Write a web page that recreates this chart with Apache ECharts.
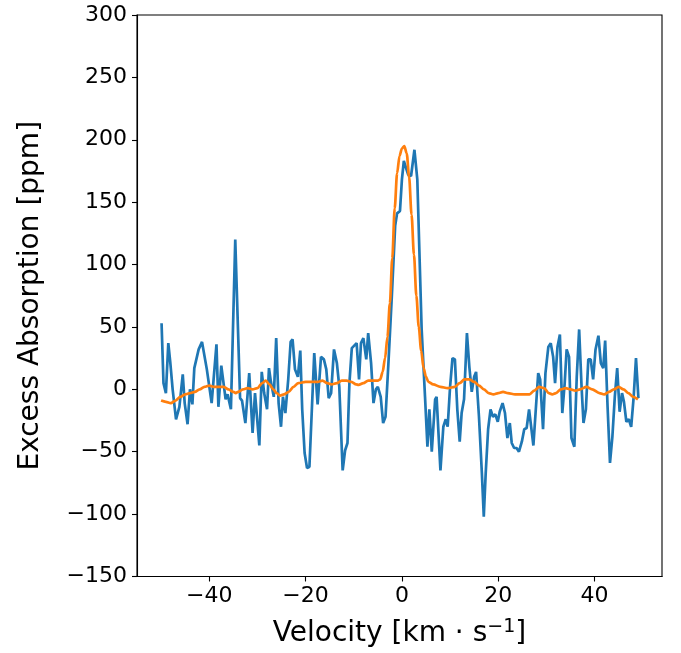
<!DOCTYPE html>
<html>
<head>
<meta charset="utf-8">
<script src="https://cdn.jsdelivr.net/npm/echarts@6/dist/echarts.min.js"></script>
<style>
html,body{margin:0;padding:0;background:#fff;}
#chart{width:681px;height:653px;}
</style>
</head>
<body>
<div id="chart"></div>
<script>
// Observed excess absorption (blue)
var obsVelocity = [-49.9,-49.5,-49.0,-48.5,-48.1,-47.6,-46.9,-46.2,-45.5,-45.1,-44.5,-44.0,-43.5,-43.1,-42.2,-41.5,-40.5,-39.5,-38.5,-38.1,-37.5,-37.1,-36.6,-36.2,-35.5,-34.6,-33.6,-33.2,-32.5,-31.7,-31.0,-30.5,-29.6,-29.1,-28.6,-28.0,-27.6,-27.2,-26.6,-26.1,-25.6,-25.1,-24.7,-24.2,-23.6,-23.1,-22.7,-22.2,-21.6,-21.1,-20.7,-20.2,-19.7,-19.2,-18.2,-17.5,-16.8,-16.2,-15.7,-15.2,-14.7,-14.1,-13.5,-13.0,-12.3,-11.8,-11.3,-10.9,-10.4,-9.4,-8.9,-8.5,-8.0,-7.4,-7.0,-6.8,-6.4,-5.9,-5.4,-5.0,-4.4,-3.9,-3.4,-2.8,-2.1,-1.4,-1.0,-0.4,0.0,0.4,0.7,1.3,1.9,2.6,3.2,4.1,4.8,5.3,5.7,6.2,6.9,7.2,8.0,8.6,9.1,9.5,10.0,10.5,11.0,11.5,12.0,12.4,12.9,13.5,14.0,14.5,15.0,15.4,16.0,16.6,17.0,17.4,17.9,18.4,18.9,19.4,19.9,20.3,20.9,21.4,21.9,22.4,22.8,23.3,23.8,24.3,24.9,25.4,25.9,26.4,26.8,27.3,28.3,28.7,29.3,29.8,30.4,30.9,31.4,31.8,32.3,32.8,33.3,33.8,34.2,34.7,35.2,35.8,36.3,36.8,37.3,37.7,38.2,38.7,39.2,39.7,40.2,40.8,41.3,41.8,42.2,42.7,43.2,43.7,44.2,44.7,45.2,45.7,46.1,46.6,47.1,47.6,48.1,48.6,49.1];
var obsAbsorption = [53,5,-3,37,22,0,-24,-14,12,-11,-28,0,-12,17,32,38,16,-11,36,-14,19,18,-8,-4,-16,120,-7,-9,-27,13,-35,-3,-45,14,-3,-16,17,6,-6,41,-11,-30,-6,-19,8,38,40,16,10,31,-16,-51,-63,-62,29,-12,26,24,16,-7,-3,32,21,2,-65,-49,-43,5,33,37,8,37,41,24,45,46,21,-11,0,2,-6,-27,-22,21,74,131,141,143,168,183,184,172,171,192,168,48,-6,-46,-16,-50,-8,-6,-65,-30,-24,-30,2,25,24,-16,-42,-19,-8,45,18,-2,10,14,-22,-67,-102,-67,-32,-16,-22,-20,-26,-18,-11,-19,-39,-27,-43,-47,-47,-50,-42,-32,-31,-16,-15,-45,13,8,-32,13,34,37,26,5,34,44,-19,5,32,26,-39,-46,10,48,2,-27,-16,24,24,8,32,43,21,17,39,-14,-59,-38,-6,17,-18,-3,-10,-26,-24,-30,-7,25,-7];

// Model (orange)
var modelVelocity = [-50,-49,-48,-47,-46,-45,-44,-43,-42,-41,-40,-39,-38,-37,-36,-35,-34.5,-34,-33,-32,-31,-30,-29,-28.3,-27.5,-26.7,-26,-25.3,-24.5,-23.5,-22.5,-21.5,-20,-18.5,-17.5,-16.5,-15.5,-14.6,-13.5,-12.5,-11.5,-10.5,-9.5,-9,-8,-7,-6,-5,-4.5,-4,-3.5,-3,-2.5,-2,-1.5,-1,-0.5,0,0.5,1,1.5,2,2.5,3,3.5,4,4.5,5,5.5,6.5,8,9.5,11,12,13,14,15,16,17,18,19,20,21,22,23.5,25,26.5,27.5,28.5,29.5,30.5,31.2,32,33,34,35,36,37,38.3,39.5,41,42,43,44,45,46,47,48,49];
var modelAbsorption = [-9,-10,-11,-9,-6,-4,-3,-2,0,2,3,2,2,2,0,-2,-3,-2,0,1,0,1,5,7,4,0,-3,-5,-4,-2,2,5,6,6,6,7,5,4,5,7,7,6,4,3.6,5,7,7,7,8,14,25,42,69,105,145,173,187,193,195,189,170,140,108,75,50,31,17,10,6,4,2,1,2,5,8,8,6,3,0,-3,-4,-3,-2,-3,-4,-4,-4,-1,2,1,-3,-4,-3,0,1,0,-1,0,2,0,-3,-4,-2,0,2,0,-3,-6,-8];

// Axis ticks
var xTicks = [-40,-20,0,20,40];
var yMin = -150, yMax = 300, yStep = 50;

function pairs(xs, ys){ return xs.map(function(x,i){ return [x, ys[i]]; }); }
function minus(v){ return String(v).replace('-', '\u2212'); }

var chart = echarts.init(document.getElementById('chart'), null, {renderer:'canvas'});
var font = 'DejaVu Sans';
chart.setOption({
  animation: false,
  backgroundColor: '#ffffff',
  textStyle: {fontFamily: font, color: '#000'},
  grid: {left: 137, right: 19, top: 15, bottom: 76, show: true, borderColor: '#000', borderWidth: 1.1, backgroundColor: 'transparent'},
  xAxis: {
    type: 'value', min: -55, max: 54,
    name: 'Velocity [km · s{sup|\u22121}]',
    nameLocation: 'middle', nameGap: 41,
    nameTextStyle: {fontFamily: font, fontSize: 28, color: '#000',
      rich: {sup: {fontFamily: font, fontSize: 19, color: '#000', padding: [0,0,14,0]}}},
    axisLine: {show: true, onZero: false, lineStyle: {color: '#000', width: 1.1}},
    axisTick: {show: true, inside: false, length: 5, customValues: xTicks, lineStyle: {color: '#000', width: 1.1}},
    axisLabel: {show: true, margin: 9, fontSize: 22, color: '#000', fontFamily: font, customValues: xTicks, formatter: minus},
    splitLine: {show: false}
  },
  yAxis: {
    type: 'value', min: yMin, max: yMax, interval: yStep,
    name: 'Excess Absorption [ppm]',
    nameLocation: 'middle', nameGap: 92, nameRotate: 90,
    nameTextStyle: {fontFamily: font, fontSize: 28, color: '#000'},
    axisLine: {show: true, onZero: false, lineStyle: {color: '#000', width: 1.1}},
    axisTick: {show: true, inside: false, length: 5, lineStyle: {color: '#000', width: 1.1}},
    axisLabel: {show: true, margin: 10, fontSize: 22, color: '#000', fontFamily: font, formatter: minus},
    splitLine: {show: false}
  },
  series: [
    {type: 'line', data: pairs(obsVelocity, obsAbsorption), showSymbol: false, symbol: 'none',
     lineStyle: {color: '#1f77b4', width: 2.7}, itemStyle: {color: '#1f77b4'}, z: 2},
    {type: 'line', data: pairs(modelVelocity, modelAbsorption), showSymbol: false, symbol: 'none',
     smooth: 0.3, smoothMonotone: 'x',
     lineStyle: {color: '#ff7f0e', width: 2.7}, itemStyle: {color: '#ff7f0e'}, z: 3}
  ]
});
</script>
</body>
</html>
